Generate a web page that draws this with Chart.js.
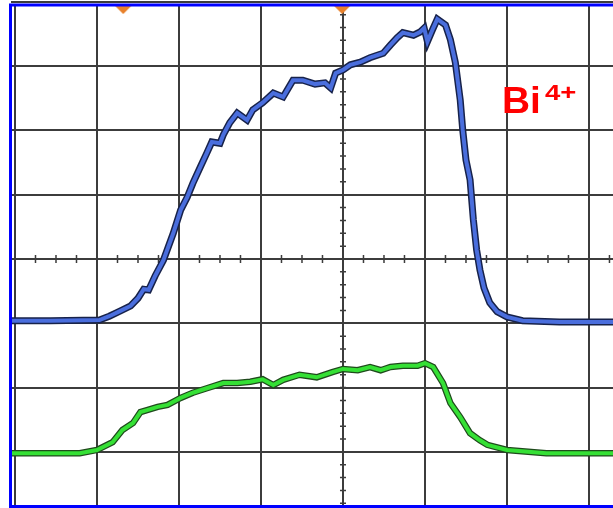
<!DOCTYPE html>
<html>
<head>
<meta charset="utf-8">
<script src="https://cdn.jsdelivr.net/npm/chart.js@4.4.1/dist/chart.umd.min.js"></script>
<style>
  body { margin: 0; background: #fff; }
  #wrap { position: relative; width: 613px; height: 508px; }
  .label { position: absolute; color: #ff0000; font-family: "Liberation Sans", Arial, sans-serif; font-weight: bold; line-height: 1; transform-origin: left top; }
</style>
</head>
<body>
<div id="wrap">
  <canvas id="scope" width="613" height="508"></canvas>
  <span class="label" style="left:502px; top:83px; font-size:36px; transform:scaleX(1.08);">Bi</span>
  <span class="label" style="left:545px; top:82px; font-size:22px; transform:scaleX(1.25);">4+</span>
</div>
<script>
// scope units: x in horizontal divisions, y in vertical divisions (0 = centre line)
const xGrid = [0, 1, 2, 3, 4, 5, 6, 7];
const yGrid = [-4, -3, -2, -1, 0, 1, 2, 3, 4];

const blueX = [-0.06, 0.43, 1.03, 1.15, 1.28, 1.41, 1.50, 1.57, 1.63, 1.71, 1.81, 1.93, 2.02, 2.10, 2.17, 2.26,
  2.34, 2.40, 2.50, 2.54, 2.62, 2.71, 2.83, 2.90, 3.02, 3.15, 3.27, 3.39, 3.51, 3.66, 3.78, 3.85, 3.91, 4.00,
  4.09, 4.21, 4.33, 4.49, 4.58, 4.66, 4.73, 4.86, 4.94, 4.99, 5.03, 5.09, 5.15, 5.25, 5.31, 5.37, 5.43, 5.46,
  5.50, 5.55, 5.59, 5.63, 5.67, 5.72, 5.79, 5.88, 6.00, 6.19, 6.64, 7.35];
const blueY = [-0.96, -0.96, -0.95, -0.89, -0.81, -0.73, -0.61, -0.47, -0.48, -0.26, -0.02, 0.40, 0.76, 0.96, 1.18, 1.43,
  1.65, 1.82, 1.80, 1.93, 2.12, 2.27, 2.16, 2.32, 2.43, 2.58, 2.52, 2.78, 2.78, 2.72, 2.74, 2.66, 2.89, 2.94,
  3.02, 3.06, 3.13, 3.20, 3.33, 3.44, 3.52, 3.48, 3.53, 3.59, 3.38, 3.56, 3.73, 3.64, 3.41, 3.06, 2.47, 2.01,
  1.54, 1.23, 0.61, 0.14, -0.17, -0.45, -0.68, -0.82, -0.90, -0.96, -0.98, -0.98];

const greenX = [-0.06, 0.79, 1.00, 1.19, 1.31, 1.44, 1.53, 1.61, 1.74, 1.86, 2.02, 2.17, 2.34, 2.54, 2.71, 2.87,
  3.02, 3.15, 3.27, 3.47, 3.68, 3.87, 4.00, 4.18, 4.33, 4.46, 4.58, 4.73, 4.91, 5.00, 5.10, 5.22, 5.31, 5.43,
  5.55, 5.67, 5.76, 6.00, 6.48, 7.35];
const greenY = [-3.02, -3.02, -2.97, -2.85, -2.66, -2.55, -2.38, -2.35, -2.30, -2.27, -2.16, -2.08, -2.01, -1.93, -1.93, -1.91,
  -1.87, -1.96, -1.88, -1.80, -1.84, -1.76, -1.71, -1.73, -1.68, -1.73, -1.68, -1.66, -1.66, -1.62, -1.68, -1.93, -2.24, -2.46,
  -2.71, -2.82, -2.89, -2.97, -3.02, -3.02];

// trigger markers along the top edge
const markerX = [1.32, 3.99];
const markerY = [3.88, 3.88];

const toPts = (xs, ys) => xs.map((x, i) => ({ x: x, y: ys[i] }));

// flat downward triangle used as the marker glyph
const markerImg = document.createElement('canvas');
markerImg.width = 18;
markerImg.height = 9;
const mctx = markerImg.getContext('2d');
mctx.fillStyle = '#e8812c';
mctx.beginPath();
mctx.moveTo(0, 0);
mctx.lineTo(18, 0);
mctx.lineTo(9, 9);
mctx.closePath();
mctx.fill();

// centre crosshair minor ticks + blue frame
const scopeDecor = {
    id: 'scopeDecor',
    beforeDatasetsDraw(chart) {
        const ctx = chart.ctx;
        const xs = chart.scales.x, ys = chart.scales.y;
        const cx = xs.getPixelForValue(4), cy = ys.getPixelForValue(0);
        ctx.save();
        ctx.strokeStyle = '#3c3c3c';
        ctx.lineWidth = 1.5;
        ctx.beginPath();
        for (let v = 0; v <= 7.3; v += 0.25) {
            const px = xs.getPixelForValue(v);
            ctx.moveTo(px, cy - 4); ctx.lineTo(px, cy + 4);
        }
        for (let v = -4; v <= 4; v += 0.2) {
            const py = ys.getPixelForValue(v);
            ctx.moveTo(cx - 3, py); ctx.lineTo(cx + 3, py);
        }
        ctx.stroke();
        ctx.restore();
    },
    afterDraw(chart) {
        const ctx = chart.ctx;
        ctx.save();
        ctx.strokeStyle = '#0000ff';
        ctx.lineWidth = 3;
        ctx.beginPath();
        ctx.moveTo(613, 5);
        ctx.lineTo(10.5, 5);
        ctx.lineTo(10.5, 506.5);
        ctx.lineTo(613, 506.5);
        ctx.stroke();
        ctx.restore();
    }
};

const ctx = document.getElementById('scope').getContext('2d');
new Chart(ctx, {
    type: 'line',
    data: {
        datasets: [
            {
                type: 'scatter',
                data: toPts(markerX, markerY),
                pointStyle: markerImg,
                pointRadius: 9,
                clip: false,
                order: 0
            },
            {
                data: toPts(blueX, blueY),
                borderColor: '#4a6edd',
                borderWidth: 4,
                pointRadius: 0,
                tension: 0,
                order: 1
            },
            {
                data: toPts(blueX, blueY),
                borderColor: '#17224a',
                borderWidth: 7,
                pointRadius: 0,
                tension: 0,
                order: 2
            },
            {
                data: toPts(greenX, greenY),
                borderColor: '#35e035',
                borderWidth: 4,
                pointRadius: 0,
                tension: 0,
                order: 1
            },
            {
                data: toPts(greenX, greenY),
                borderColor: '#1f4a1c',
                borderWidth: 6.5,
                pointRadius: 0,
                tension: 0,
                order: 2
            }
        ]
    },
    options: {
        responsive: false,
        animation: false,
        devicePixelRatio: 1,
        layout: { autoPadding: false, padding: { left: 11, top: 5, right: 0, bottom: 1 } },
        plugins: {
            legend: { display: false },
            tooltip: { enabled: false }
        },
        scales: {
            x: {
                type: 'linear',
                min: -0.0488,
                max: 7.293,
                afterBuildTicks: s => { s.ticks = xGrid.map(v => ({ value: v })); },
                afterFit: s => { s.height = 0; },
                ticks: { display: false },
                grid: { color: '#3c3c3c', lineWidth: 2, drawTicks: false },
                border: { display: false }
            },
            y: {
                type: 'linear',
                min: -3.857,
                max: 3.95,
                afterBuildTicks: s => { s.ticks = yGrid.map(v => ({ value: v })); },
                afterFit: s => { s.width = 0; },
                ticks: { display: false },
                grid: { color: '#3c3c3c', lineWidth: 2, drawTicks: false },
                border: { display: false }
            }
        }
    },
    plugins: [scopeDecor]
});
</script>
</body>
</html>
